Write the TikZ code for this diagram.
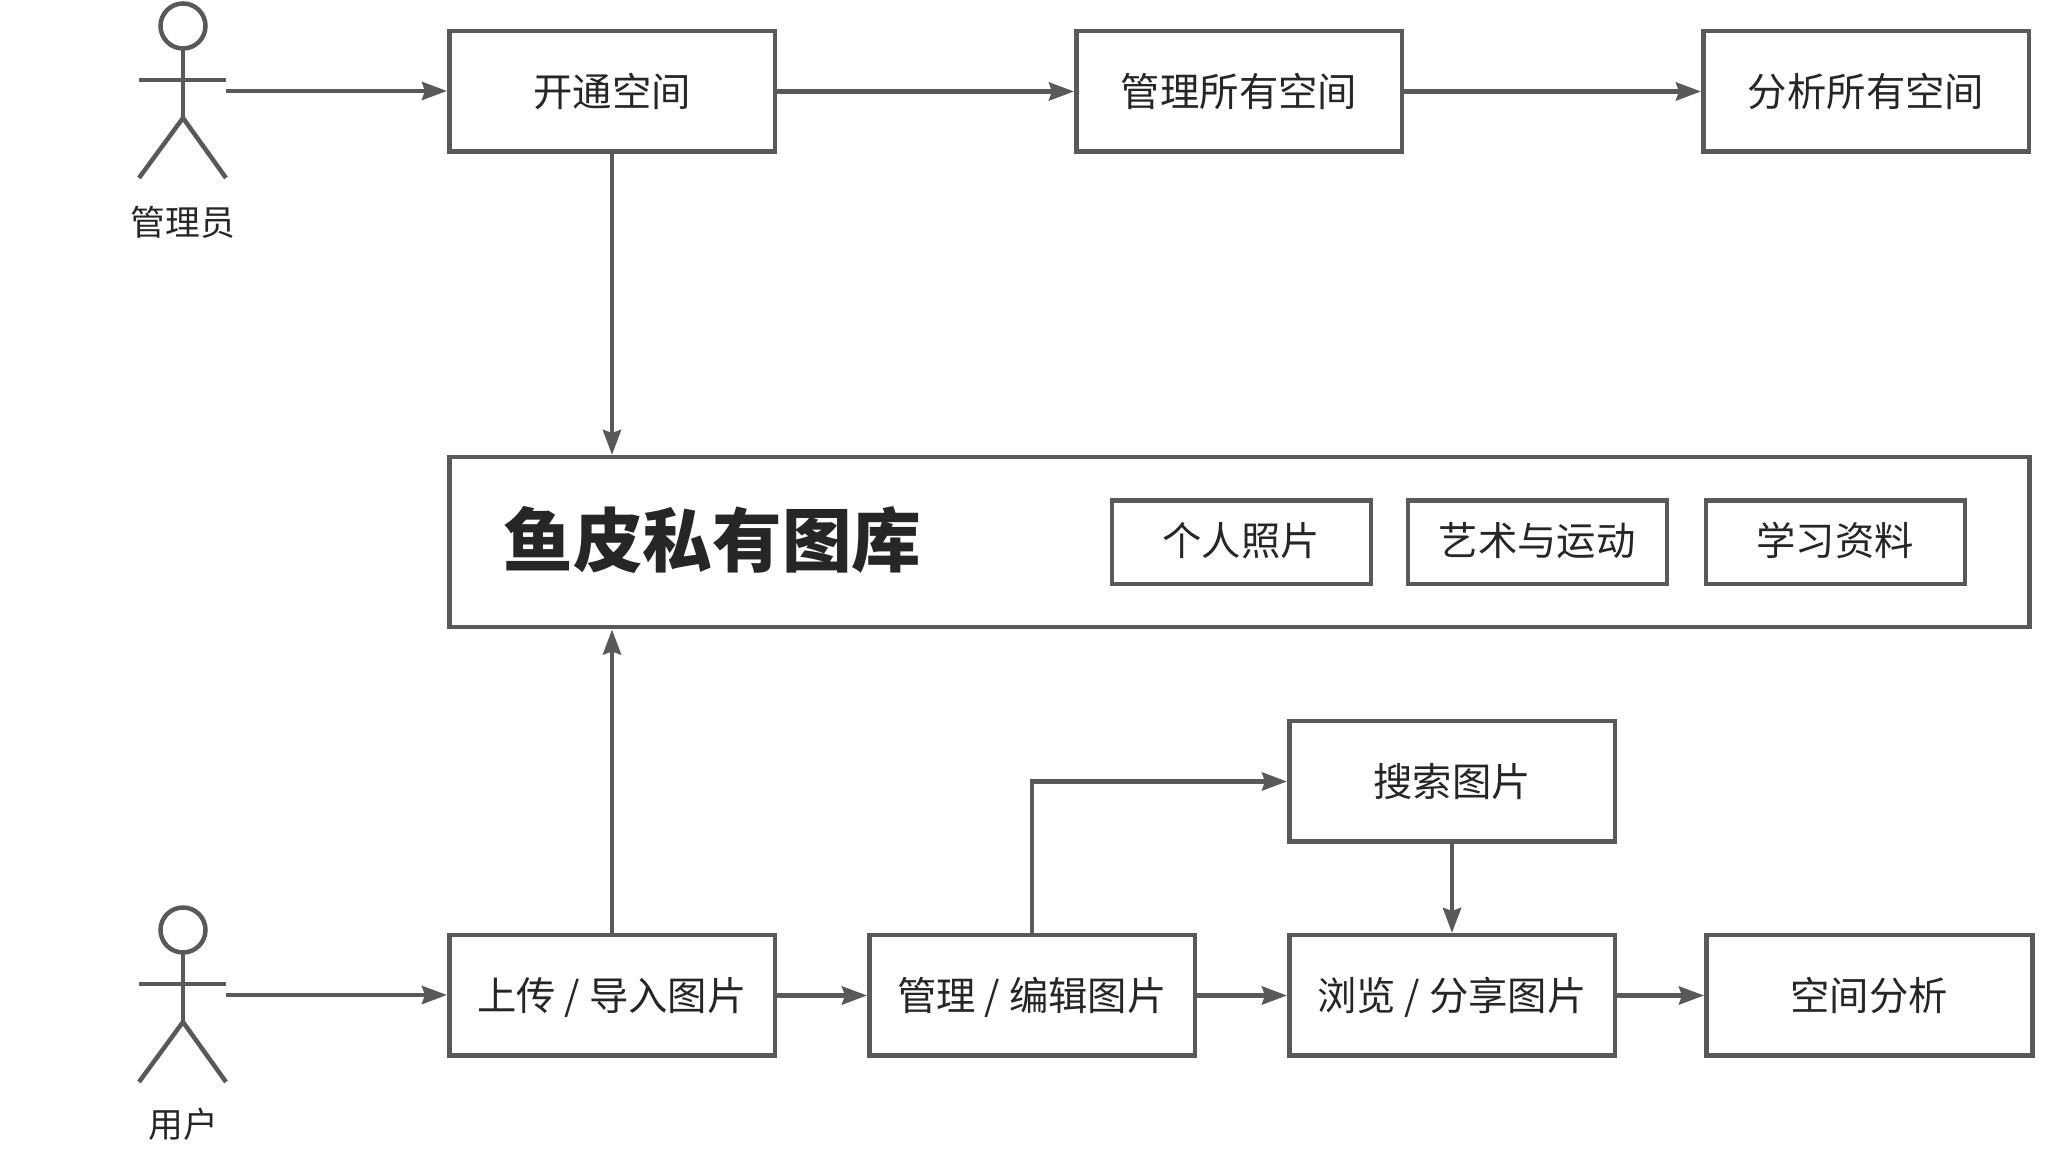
\documentclass[tikz,border=0pt]{standalone}
\usepackage{fontspec}
\usepackage{xcolor}
\usepackage{tikz}
\usetikzlibrary{arrows.meta, positioning}
\setmainfont{Noto Sans CJK SC}
\definecolor{linegray}{HTML}{595959}
\definecolor{textgray}{HTML}{262626}

\begin{document}
\begin{tikzpicture}[
    box/.style={rectangle, draw=linegray, line width=0.045cm, fill=white,
                minimum width=3.255cm, minimum height=1.205cm,
                text height=1.0em, text depth=0.14em,
                text=textgray, font=\fontsize{11.2pt}{13pt}\selectfont},
    tagbox/.style={box, minimum width=2.59cm, minimum height=0.835cm,
                text height=0.94em, text depth=0.2em},
    headline/.style={inner sep=0pt, text=textgray, font=\fontsize{19.8pt}{24pt}\selectfont\bfseries},
    role/.style={inner sep=0pt, text=textgray, font=\fontsize{9.9pt}{12pt}\selectfont},
    arrow/.style={-{Stealth[length=0.25cm,width=0.18cm,inset=0.03cm]}, draw=linegray, line width=0.045cm},
    actor/.pic={
        \draw[linegray, line width=0.045cm] (0,0) circle (0.225);
        \draw[linegray, line width=0.045cm] (0,-0.225) -- (0,-0.92);
        \draw[linegray, line width=0.045cm] (-0.44,-0.54) -- (0.43,-0.54);
        \draw[linegray, line width=0.045cm] (-0.44,-1.52) -- (0,-0.92) -- (0.43,-1.52);
        \coordinate (-hand) at (0.43,-0.65);
        \coordinate (-foot) at (0,-1.52);
    }
]
\useasboundingbox (0,0) rectangle (20.47,11.61);

% administrator row
\pic (admin) at (1.83,11.35) {actor};
\node[role, below=0.44cm of admin-foot, anchor=center] (adminlabel) {管理员};
\node[box] (open) at (6.12,10.695) {开通空间};
\node[box, right=2.97cm of open] (manage) {管理所有空间};
\node[box, right=2.97cm of manage] (analyze) {分析所有空间};

% library
\node[box, minimum width=15.8cm, minimum height=1.7cm,
      below=3.01cm of open.south west, anchor=north west] (library) {};
\node[headline, right=0.56cm of library.west, yshift=0.02cm] (title) {鱼皮私有图库};
\node[tagbox, right=6.625cm of library.west] (personal) {个人照片};
\node[tagbox, right=0.325cm of personal] (art) {艺术与运动};
\node[tagbox, right=0.345cm of art] (study) {学习资料};

% user row
\pic (user) at (1.83,2.31) {actor};
\node[role, below=0.42cm of user-foot, anchor=center] (userlabel) {用户};
\node[box, below=3.035cm of library.south west, anchor=north west] (upload) {上传 / 导入图片};
\node[box, right=0.90cm of upload] (edit) {管理 / 编辑图片};
\node[box, right=0.90cm of edit] (browse) {浏览 / 分享图片};
\node[box, right=0.87cm of browse, minimum width=3.26cm] (stats) {空间分析};
\node[box, above=0.89cm of browse] (search) {搜索图片};

\draw[arrow] (admin-hand) -- (admin-hand -| open.west);
\draw[arrow] (open) -- (manage);
\draw[arrow] (manage) -- (analyze);
\draw[arrow] (open) -- (open |- library.north);

\draw[arrow] (user-hand) -- (user-hand -| upload.west);
\draw[arrow] (upload) -- (upload |- library.south);
\draw[arrow] (upload) -- (edit);
\draw[arrow] (edit) -- (browse);
\draw[arrow] (browse) -- (stats);
\draw[arrow] (edit.north) |- (search.west);
\draw[arrow] (search) -- (browse);

\end{tikzpicture}
\end{document}
